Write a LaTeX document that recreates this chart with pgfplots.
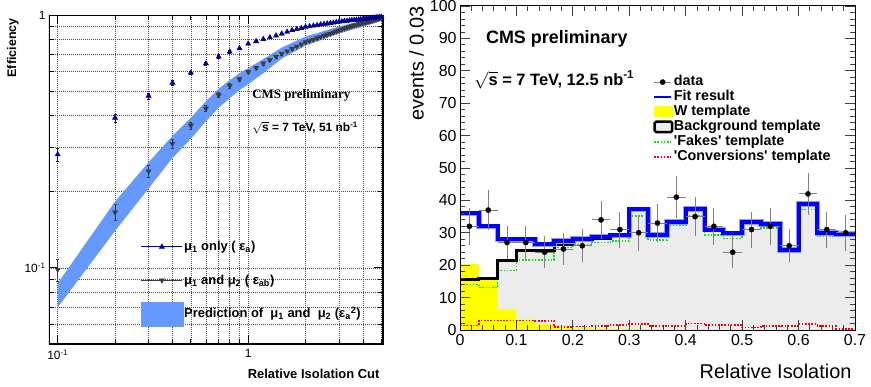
\documentclass[border=0pt]{standalone}
\usepackage{fontspec}
\setmainfont{Liberation Sans}
\newfontfamily\serifb{Liberation Serif}
\usepackage{pgfplots}
\pgfplotsset{compat=1.18}
\definecolor{band}{RGB}{102,153,255}
\definecolor{navyb}{RGB}{0,0,150}
\definecolor{dgray}{RGB}{60,60,60}
\definecolor{wyellow}{RGB}{255,255,0}
\definecolor{bggray}{RGB}{236,236,236}
\definecolor{fgreen}{RGB}{0,235,0}
\definecolor{cred}{RGB}{255,0,0}
\definecolor{fitblue}{RGB}{0,0,255}

\pgfplotstableread{
x y e
0.1 0.281 0.016
0.2 0.392 0.014
0.3 0.479 0.013
0.4 0.539 0.012
0.5 0.591 0.010
0.6 0.643 0.009
0.7 0.684 0.008
0.8 0.716 0.007
0.9 0.738 0.007
1.0 0.770 0.006
1.1 0.787 0.005
1.2 0.803 0.005
1.3 0.815 0.005
1.4 0.829 0.005
1.5 0.843 0.005
1.6 0.857 0.005
1.7 0.870 0.005
1.8 0.879 0.005
1.9 0.887 0.005
2.0 0.897 0.005
2.1 0.902 0.004
2.2 0.907 0.004
2.3 0.912 0.004
2.4 0.917 0.004
2.5 0.921 0.004
2.6 0.925 0.004
2.7 0.929 0.004
2.8 0.932 0.004
2.9 0.936 0.004
3.0 0.940 0.004
3.1 0.943 0.003
3.2 0.946 0.003
3.3 0.948 0.003
3.4 0.951 0.003
3.5 0.953 0.003
3.6 0.955 0.003
3.7 0.957 0.003
3.8 0.959 0.003
3.9 0.961 0.003
4.0 0.963 0.003
4.1 0.965 0.003
4.2 0.967 0.003
4.3 0.969 0.003
4.4 0.971 0.003
4.5 0.973 0.003
4.6 0.975 0.003
4.7 0.977 0.003
4.8 0.979 0.003
4.9 0.981 0.003
5.0 0.983 0.003
}\effa

\pgfplotstableread{
x y e
0.1 0.0985 0.010
0.2 0.166 0.012
0.3 0.241 0.013
0.4 0.310 0.013
0.5 0.366 0.012
0.6 0.427 0.012
0.7 0.482 0.011
0.8 0.525 0.010
0.9 0.558 0.010
1.0 0.596 0.010
1.1 0.617 0.009
1.2 0.644 0.009
1.3 0.664 0.008
1.4 0.685 0.008
1.5 0.704 0.008
1.6 0.719 0.007
1.7 0.736 0.007
1.8 0.751 0.007
1.9 0.766 0.007
2.0 0.781 0.006
2.1 0.790 0.006
2.2 0.800 0.006
2.3 0.810 0.006
2.4 0.820 0.006
2.5 0.829 0.006
2.6 0.838 0.006
2.7 0.845 0.006
2.8 0.853 0.006
2.9 0.862 0.006
3.0 0.870 0.005
3.1 0.877 0.005
3.2 0.885 0.005
3.3 0.892 0.005
3.4 0.898 0.005
3.5 0.904 0.005
3.6 0.910 0.005
3.7 0.915 0.005
3.8 0.920 0.005
3.9 0.925 0.005
4.0 0.930 0.005
4.1 0.934 0.004
4.2 0.938 0.004
4.3 0.942 0.004
4.4 0.947 0.004
4.5 0.952 0.004
4.6 0.957 0.004
4.7 0.962 0.004
4.8 0.967 0.004
4.9 0.972 0.004
5.0 0.977 0.004
}\effab

% histogram: bin left edges, last row repeats the last value at 0.7
\pgfplotstableread{
x fit bkg fakes conv w
0.0000 36.0 15.6 14.1 1.4 20.4
0.0333 32.0 16.0 13.1 2.9 16.0
0.0667 28.0 21.4 18.4 2.9 6.4
0.1000 28.0 24.6 21.6 2.9 3.2
0.1333 26.4 24.6 21.6 2.8 1.8
0.1667 27.5 26.4 25.5 0.9 1.0
0.2000 28.1 27.6 26.3 1.1 0.5
0.2333 28.8 28.3 27.0 1.3 0.3
0.2667 29.2 28.8 27.4 1.6 0.2
0.3000 37.2 36.8 35.1 1.8 0.1
0.3333 29.3 29.1 27.7 1.3 0.0
0.3667 33.4 33.0 32.4 1.2 0.0
0.4000 37.3 37.0 35.4 2.0 0.0
0.4333 31.0 30.6 29.4 1.5 0.0
0.4667 29.8 29.5 28.3 1.5 0.0
0.5000 33.3 33.0 32.6 0.8 0.0
0.5333 32.7 32.5 31.4 1.2 0.0
0.5667 24.7 24.4 23.9 1.3 0.0
0.6000 38.9 38.6 37.2 1.9 0.0
0.6333 30.0 29.8 29.0 1.3 0.0
0.6667 29.7 29.5 29.0 0.4 0.0
0.7000 29.7 29.5 29.0 0.4 0.0
}\hist

\pgfplotstableread{
x y ex ey
0.01667 32 0.01667 5.66
0.05000 37 0.01667 6.08
0.08333 27 0.01667 5.20
0.11667 27 0.01667 5.20
0.15000 24 0.01667 4.90
0.18333 25 0.01667 5.00
0.21667 26 0.01667 5.10
0.25000 34 0.01667 5.83
0.28333 31 0.01667 5.57
0.31667 30 0.01667 5.48
0.35000 33 0.01667 5.74
0.38333 41 0.01667 6.40
0.41667 35 0.01667 5.92
0.45000 32 0.01667 5.66
0.48333 24 0.01667 4.90
0.51667 31 0.01667 5.57
0.55000 32 0.01667 5.66
0.58333 26 0.01667 5.10
0.61667 42 0.01667 6.48
0.65000 31 0.01667 5.57
0.68333 30 0.01667 5.48
}\data

\begin{document}
\begin{tikzpicture}
\useasboundingbox (0bp,0bp) rectangle (871bp,387bp);
% ================= LEFT PANEL =================
\begin{axis}[
  at={(49bp,43bp)}, anchor=south west,
  scale only axis, width=334bp, height=329bp,
  xmode=log, ymode=log,
  xmin=0.09, xmax=5.1, ymin=0.05, ymax=1,
  xtick={0.1,1}, xticklabels={10\textsuperscript{-1},1},
  minor xtick={0.2,0.3,0.4,0.5,0.6,0.7,0.8,0.9,2,3,4,5},
  ytick={0.1,1}, yticklabels={10\textsuperscript{-1},1},
  minor ytick={0.06,0.07,0.08,0.09,0.2,0.3,0.4,0.5,0.6,0.7,0.8,0.9},
  grid=both,
  major grid style={black!70, line width=0.6bp, dash pattern=on 1bp off 1bp},
  minor grid style={black!70, line width=0.6bp, dash pattern=on 1bp off 1bp},
  tick align=inside, major tick length=9bp, minor tick length=5bp,
  tick style={black, line width=0.8bp},
  ticklabel style={font=\fontsize{12}{12}\selectfont},
  xticklabel style={yshift=-2bp},
  xlabel={\bfseries Relative Isolation Cut},
  xlabel style={font=\fontsize{13}{13}\selectfont, at={(axis description cs:1,0)}, anchor=north east, yshift=-22bp},
  ylabel={\bfseries Efficiency},
  ylabel style={font=\fontsize{12.5}{12.5}\selectfont, at={(axis description cs:-0.08,1)}, anchor=south east},
  legend style={at={(0.266,0.353)}, anchor=north west, draw=none, fill=none,
    font=\fontsize{13}{13}\selectfont\bfseries, row sep=0pt,
    nodes={inner sep=0.5bp, text height=20bp, text depth=12.5bp}},
  legend cell align=left,
]
\addlegendimage{legend image code/.code={
  \draw[navyb, line width=0.8bp] (0bp,0bp)--(41bp,0bp);
  \fill[navyb] (20.5bp,3bp)--(17.9bp,-1.5bp)--(23.1bp,-1.5bp)--cycle;}}
\addlegendentry{μ\textsubscript{1} only ( ε\textsubscript{a})}
\addlegendimage{legend image code/.code={
  \draw[dgray, line width=0.8bp] (0bp,0bp)--(41bp,0bp);
  \fill[dgray] (20.5bp,-3bp)--(17.9bp,1.5bp)--(23.1bp,1.5bp)--cycle;}}
\addlegendentry{μ\textsubscript{1} and μ\textsubscript{2} ( ε\textsubscript{ab})}
\addlegendimage{legend image code/.code={
  \fill[band] (0bp,-12bp) rectangle (42bp,12bp);}}
\addlegendentry{Prediction of \ μ\textsubscript{1} and \ μ\textsubscript{2} (ε\textsubscript{a}\textsuperscript{2})}

\addplot[fill=band, draw=none, forget plot] coordinates {
(0.1,0.0869) (0.2,0.183) (0.3,0.2615) (0.4,0.3323) (0.5,0.3925) (0.6,0.4560)
(0.7,0.5113) (0.8,0.5526) (0.9,0.5889) (1.0,0.6164) (1.2,0.669) (1.5,0.7432)
(2.0,0.8219) (3.0,0.9003) (4.0,0.951) (5.0,0.991)
(5.0,0.947) (4.0,0.9003) (3.0,0.8447) (2.0,0.7568) (1.5,0.6724) (1.2,0.5889)
(1.0,0.5327) (0.9,0.5043) (0.8,0.4688) (0.7,0.4299) (0.6,0.3800) (0.5,0.3239)
(0.4,0.2719) (0.3,0.2062) (0.2,0.140) (0.1,0.0698)
} -- cycle;

\addplot[only marks, dgray, mark=triangle*, mark size=3bp, mark options={rotate=180, dgray}, forget plot,
  error bars/.cd, y dir=both, y explicit,
  error bar style={dgray, line width=0.6bp}, error mark options={rotate=90, mark size=1.5bp, dgray}]
  table[x=x, y=y, y error=e] {\effab};
\addplot[only marks, navyb, mark=triangle*, mark size=3bp, forget plot,
  error bars/.cd, y dir=both, y explicit,
  error bar style={navyb, line width=0.6bp}, error mark options={rotate=90, mark size=1.5bp, navyb}]
  table[x=x, y=y, y error=e] {\effa};

\draw[black, line width=1.8bp] (rel axis cs:0,0) rectangle (rel axis cs:1,1);
\node[anchor=west, font=\fontsize{13}{13}\selectfont\serifb\bfseries] at (rel axis cs:0.598,0.757) {CMS preliminary};
\node[anchor=west, font=\fontsize{12}{12}\selectfont\bfseries] at (rel axis cs:0.598,0.657) {$\sqrt{\mbox{s}}$ = 7 TeV, 51 nb\textsuperscript{-1}};
\end{axis}

% ================= RIGHT PANEL =================
\begin{axis}[
  at={(460bp,57bp)}, anchor=south west,
  scale only axis, width=395bp, height=324bp,
  xmin=0, xmax=0.7, ymin=0, ymax=100,
  xtick={0,0.1,0.2,0.3,0.4,0.5,0.6,0.7},
  xticklabels={0,0.1,0.2,0.3,0.4,0.5,0.6,0.7},
  ytick={0,10,20,30,40,50,60,70,80,90,100},
  yticklabels={0,10,20,30,40,50,60,70,80,90,100},
  minor x tick num=4, minor y tick num=4,
  tick align=inside, major tick length=10bp, minor tick length=5bp,
  tick style={black!75, line width=0.8bp},
  axis line style={line width=1bp},
  ticklabel style={font=\fontsize{16}{16}\selectfont},
  xticklabel style={yshift=-1bp},
  xlabel={Relative Isolation},
  xlabel style={font=\fontsize{20}{20}\selectfont, at={(axis description cs:1,0)}, anchor=north east, yshift=-31bp},
  ylabel={events / 0.03},
  ylabel style={font=\fontsize{20}{20}\selectfont, at={(axis description cs:-0.083,1.01)}, anchor=south east},
  legend style={at={(0.481,0.795)}, anchor=north west, draw=none, fill=none,
    font=\fontsize{14.4}{14.4}\selectfont\bfseries, row sep=0pt,
    nodes={inner sep=0.5bp, text height=10.5bp, text depth=3.5bp}},
  legend cell align=left,
  axis on top,
]
\addlegendimage{legend image code/.code={
  \draw[gray, line width=1bp] (0bp,0bp)--(17bp,0bp);
  \fill[black] (8.5bp,0bp) circle (2.6bp);}}
\addlegendentry{data}
\addlegendimage{legend image code/.code={
  \draw[fitblue, line width=2bp] (0bp,0bp)--(17bp,0bp);}}
\addlegendentry{Fit result}
\addlegendimage{legend image code/.code={
  \fill[wyellow, rounded corners=1.5bp] (0bp,-5bp) rectangle (19bp,6bp);}}
\addlegendentry{W template}
\addlegendimage{legend image code/.code={
  \draw[black, line width=2.5bp, fill=bggray, rounded corners=1.5bp] (0.5bp,-5bp) rectangle (18bp,5.5bp);}}
\addlegendentry{Background template}
\addlegendimage{legend image code/.code={
  \draw[fgreen, line width=1.6bp, dash pattern=on 1.6bp off 1.6bp] (0bp,0bp)--(17bp,0bp);}}
\addlegendentry{\textquotesingle Fakes\textquotesingle\ template}
\addlegendimage{legend image code/.code={
  \draw[cred, line width=1.6bp, dash pattern=on 1.6bp off 1.6bp] (0bp,0bp)--(17bp,0bp);}}
\addlegendentry{\textquotesingle Conversions\textquotesingle\ template}

\addplot[const plot, fill=bggray, draw=none, forget plot] table[x=x, y=bkg] {\hist} \closedcycle;
\addplot[const plot, fill=wyellow, draw=none, forget plot] table[x=x, y=w] {\hist} \closedcycle;
\addplot[const plot, cred, line width=1.6bp, dash pattern=on 1.6bp off 1.6bp, forget plot] table[x=x, y=conv] {\hist};
\addplot[const plot, fgreen, line width=1.6bp, dash pattern=on 1.6bp off 1.6bp, forget plot] table[x=x, y=fakes] {\hist};
\addplot[const plot, black, line width=3bp, forget plot] table[x=x, y=bkg] {\hist};
\addplot[const plot, fitblue!40, line width=5.5bp, forget plot] table[x=x, y=fit] {\hist};
\addplot[const plot, fitblue, line width=4bp, forget plot] table[x=x, y=fit] {\hist};
\addplot[only marks, black, mark=*, mark size=2.6bp, forget plot,
  error bars/.cd, x dir=both, x explicit, y dir=both, y explicit,
  error bar style={gray, line width=0.9bp}, error mark=none]
  table[x=x, y=y, x error=ex, y error=ey] {\data};

\node[anchor=west, font=\fontsize{18}{18}\selectfont\bfseries] at (axis cs:0.040,89.8) {CMS preliminary};
\node[anchor=west, font=\fontsize{16.5}{16.5}\selectfont\bfseries] at (axis cs:0.019,77.2) {$\sqrt{\mbox{s}}$ = 7 TeV, 12.5 nb\textsuperscript{-1}};
\end{axis}
\end{tikzpicture}
\end{document}
